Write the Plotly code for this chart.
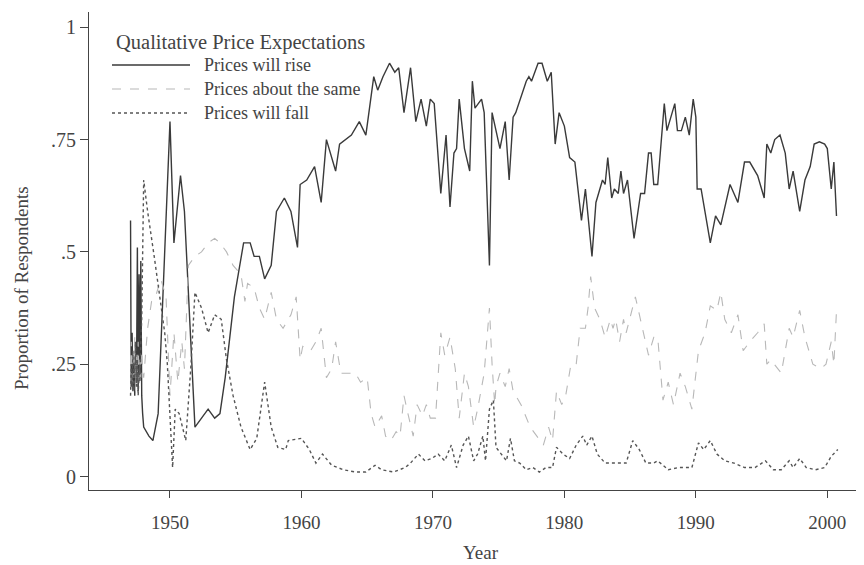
import plotly.graph_objects as go

# ---------------- data ----------------
rise_years = [1947.0, 1947.05, 1947.12, 1947.18, 1947.25, 1947.32, 1947.38, 1947.45, 1947.52,
              1947.58, 1947.65, 1947.72, 1947.78, 1947.85, 1947.92, 1948.0, 1948.4, 1948.7,
              1949.1, 1950.0, 1950.3, 1950.8, 1951.1, 1951.9, 1952.4, 1952.9, 1953.4, 1953.8,
              1954.2, 1954.9, 1955.6, 1956.1, 1956.4, 1956.8, 1957.2, 1957.7, 1958.1, 1958.7,
              1959.2, 1959.7, 1959.9, 1960.4, 1961.0, 1961.5, 1961.9, 1962.6, 1962.9, 1963.8,
              1964.4, 1964.9, 1965.5, 1965.8, 1966.2, 1966.7, 1967.1, 1967.4, 1967.8, 1968.3,
              1968.7, 1969.1, 1969.5, 1969.8, 1970.1, 1970.6, 1971.0, 1971.3, 1971.6, 1971.8,
              1972.0, 1972.4, 1972.8, 1973.0, 1973.2, 1973.7, 1973.9, 1974.3, 1974.5, 1975.1,
              1975.5, 1975.8, 1976.1, 1976.3, 1977.1, 1977.3, 1977.5, 1978.0, 1978.3, 1978.7,
              1979.0, 1979.3, 1979.6, 1980.0, 1980.4, 1980.8, 1981.3, 1981.6, 1982.1, 1982.4,
              1982.9, 1983.1, 1983.3, 1983.6, 1983.8, 1984.1, 1984.3, 1984.5, 1984.8, 1985.3,
              1985.8, 1986.1, 1986.4, 1986.6, 1986.8, 1987.1, 1987.6, 1987.8, 1988.1, 1988.4,
              1988.6, 1988.9, 1989.2, 1989.5, 1989.8, 1990.0, 1990.1, 1990.4, 1991.1, 1991.5,
              1991.9, 1992.6, 1993.2, 1993.7, 1994.1, 1994.7, 1995.2, 1995.4, 1995.7, 1996.0,
              1996.4, 1996.8, 1997.1, 1997.4, 1997.9, 1998.3, 1998.7, 1999.0, 1999.4, 1999.8,
              2000.0, 2000.3, 2000.5, 2000.7]
rise_vals = [0.57, 0.20, 0.32, 0.19, 0.27, 0.18, 0.30, 0.21, 0.51,
             0.19, 0.45, 0.22, 0.48, 0.18, 0.14, 0.11, 0.09, 0.08,
             0.14, 0.79, 0.52, 0.67, 0.59, 0.11, 0.13, 0.15, 0.13, 0.14,
             0.22, 0.40, 0.52, 0.52, 0.49, 0.49, 0.44, 0.47, 0.59, 0.62,
             0.59, 0.51, 0.65, 0.66, 0.69, 0.61, 0.75, 0.68, 0.74, 0.76,
             0.79, 0.76, 0.89, 0.86, 0.89, 0.92, 0.90, 0.91, 0.81, 0.91,
             0.79, 0.84, 0.78, 0.84, 0.83, 0.63, 0.76, 0.60, 0.72, 0.73,
             0.84, 0.73, 0.68, 0.88, 0.82, 0.84, 0.81, 0.47, 0.81, 0.73,
             0.79, 0.66, 0.80, 0.81, 0.88, 0.89, 0.88, 0.92, 0.92, 0.88,
             0.90, 0.74, 0.81, 0.78, 0.71, 0.70, 0.57, 0.64, 0.49, 0.61,
             0.66, 0.65, 0.71, 0.62, 0.64, 0.63, 0.68, 0.63, 0.66, 0.53,
             0.63, 0.63, 0.72, 0.72, 0.65, 0.65, 0.83, 0.77, 0.80, 0.83,
             0.77, 0.77, 0.80, 0.76, 0.84, 0.80, 0.64, 0.64, 0.52, 0.58,
             0.56, 0.65, 0.61, 0.70, 0.70, 0.67, 0.62, 0.74, 0.72, 0.75,
             0.76, 0.72, 0.64, 0.68, 0.59, 0.66, 0.69, 0.74, 0.745, 0.74,
             0.73, 0.64, 0.70, 0.58]

same_years = [1947.0, 1947.06, 1947.12, 1947.18, 1947.25, 1947.32, 1947.38, 1947.45, 1947.52,
              1947.58, 1947.65, 1947.72, 1947.78, 1947.85, 1947.92, 1948.0, 1948.3, 1948.6,
              1948.9, 1949.3, 1949.7, 1950.0, 1950.3, 1950.6, 1950.9, 1951.1, 1951.4, 1951.9,
              1952.4, 1952.9, 1953.4, 1953.8, 1954.3, 1954.8, 1955.4, 1955.7, 1955.9, 1956.4,
              1956.8, 1957.2, 1957.7, 1958.1, 1958.6, 1959.2, 1959.6, 1959.9, 1960.1, 1960.7,
              1961.1, 1961.5, 1961.9, 1962.3, 1962.6, 1963.0, 1963.4, 1964.1, 1964.5, 1965.0,
              1965.3, 1965.6, 1966.1, 1966.4, 1966.8, 1967.2, 1967.5, 1967.8, 1968.1, 1968.5,
              1968.8, 1969.2, 1969.5, 1969.8, 1970.2, 1970.6, 1970.9, 1971.3, 1971.7, 1972.0,
              1972.4, 1972.7, 1973.1, 1973.4, 1973.9, 1974.3, 1974.5, 1974.7, 1974.8, 1975.1,
              1975.5, 1975.8, 1976.1, 1976.7, 1977.4, 1978.0, 1978.4, 1978.8, 1979.1, 1979.4,
              1979.8, 1980.1, 1980.5, 1980.9, 1981.2, 1981.6, 1981.8, 1982.0, 1982.3, 1982.7,
              1983.1, 1983.5, 1983.7, 1983.9, 1984.2, 1984.5, 1984.7, 1985.4, 1985.7, 1986.4,
              1986.8, 1987.1, 1987.5, 1987.9, 1988.3, 1988.8, 1989.2, 1989.7, 1990.2, 1990.7,
              1991.1, 1991.6, 1991.9, 1992.2, 1992.7, 1993.2, 1993.6, 1994.1, 1994.7, 1995.2,
              1995.4, 1995.7, 1996.5, 1997.1, 1997.4, 1997.9, 1998.3, 1998.9, 1999.5, 1999.9,
              2000.3, 2000.5, 2000.7]
same_vals = [0.25, 0.30, 0.20, 0.28, 0.22, 0.31, 0.19, 0.27, 0.23,
             0.30, 0.20, 0.26, 0.22, 0.28, 0.24, 0.22, 0.33, 0.39,
             0.40, 0.44, 0.40, 0.18, 0.32, 0.21, 0.30, 0.24, 0.47, 0.49,
             0.50, 0.52, 0.53, 0.52, 0.50, 0.47, 0.45, 0.39, 0.43, 0.42,
             0.375, 0.35, 0.41, 0.35, 0.33, 0.36, 0.40, 0.26, 0.29, 0.28,
             0.30, 0.33, 0.22, 0.24, 0.30, 0.23, 0.23, 0.23, 0.21, 0.22,
             0.14, 0.11, 0.135, 0.09, 0.08, 0.10, 0.09, 0.18, 0.14, 0.09,
             0.16, 0.135, 0.16, 0.13, 0.13, 0.32, 0.27, 0.31, 0.24, 0.13,
             0.23, 0.20, 0.11, 0.15, 0.23, 0.375, 0.25, 0.16, 0.20, 0.23,
             0.20, 0.24, 0.19, 0.16, 0.11, 0.085, 0.07, 0.11, 0.08, 0.19,
             0.16, 0.18, 0.25, 0.25, 0.33, 0.33, 0.375, 0.445, 0.375, 0.35,
             0.31, 0.35, 0.33, 0.35, 0.30, 0.35, 0.32, 0.40, 0.36, 0.27,
             0.31, 0.31, 0.17, 0.21, 0.16, 0.23, 0.20, 0.15, 0.28, 0.32,
             0.38, 0.37, 0.41, 0.35, 0.32, 0.36, 0.28, 0.30, 0.32, 0.34,
             0.25, 0.26, 0.23, 0.33, 0.31, 0.37, 0.31, 0.25, 0.24, 0.25,
             0.30, 0.25, 0.37]

fall_years = [1947.0, 1947.06, 1947.12, 1947.18, 1947.25, 1947.32, 1947.38, 1947.45, 1947.52,
              1947.58, 1947.65, 1947.72, 1947.78, 1947.85, 1948.0, 1948.3, 1948.8, 1949.2,
              1949.6, 1949.8, 1950.2, 1950.4, 1950.7, 1951.2, 1951.6, 1951.9, 1952.4, 1952.9,
              1953.4, 1953.9, 1954.3, 1954.8, 1955.4, 1956.1, 1956.6, 1957.2, 1957.7, 1958.2,
              1958.8, 1959.0, 1960.0, 1960.6, 1961.1, 1961.6, 1962.3, 1963.2, 1964.1, 1964.9,
              1965.6, 1966.1, 1967.0, 1967.9, 1968.3, 1968.9, 1969.4, 1969.9, 1970.4, 1970.9,
              1971.4, 1971.8, 1972.3, 1972.7, 1973.1, 1973.4, 1973.8, 1974.0, 1974.3, 1974.6,
              1974.8, 1975.2, 1975.6, 1975.9, 1976.2, 1976.6, 1977.1, 1977.6, 1978.1, 1978.6,
              1979.1, 1979.4, 1979.9, 1980.4, 1980.9, 1981.4, 1981.7, 1982.1, 1982.5, 1983.1,
              1983.6, 1984.1, 1984.7, 1985.2, 1985.7, 1986.2, 1986.8, 1987.1, 1987.9, 1988.7,
              1989.7, 1990.2, 1990.6, 1991.1, 1991.6, 1992.2, 1992.9, 1993.7, 1994.5, 1995.3,
              1995.9, 1996.5, 1997.1, 1997.4, 1997.9, 1998.4, 1999.1, 1999.8, 2000.3, 2000.8]
fall_vals = [0.18, 0.25, 0.20, 0.28, 0.19, 0.23, 0.30, 0.20, 0.26,
             0.18, 0.24, 0.21, 0.30, 0.35, 0.66, 0.59, 0.49, 0.40,
             0.32, 0.25, 0.02, 0.15, 0.14, 0.08, 0.25, 0.41, 0.375, 0.32,
             0.36, 0.35, 0.26, 0.18, 0.11, 0.06, 0.085, 0.21, 0.11, 0.065,
             0.06, 0.08, 0.085, 0.06, 0.03, 0.05, 0.025, 0.015, 0.01, 0.01,
             0.025, 0.015, 0.01, 0.02, 0.03, 0.05, 0.035, 0.04, 0.05, 0.035,
             0.07, 0.02, 0.07, 0.09, 0.035, 0.05, 0.09, 0.035, 0.15, 0.17,
             0.065, 0.05, 0.035, 0.085, 0.035, 0.03, 0.015, 0.02, 0.01, 0.02,
             0.02, 0.065, 0.05, 0.04, 0.07, 0.09, 0.07, 0.09, 0.05, 0.03,
             0.03, 0.03, 0.03, 0.08, 0.06, 0.03, 0.03, 0.035, 0.015, 0.02,
             0.02, 0.075, 0.06, 0.08, 0.05, 0.035, 0.03, 0.02, 0.02, 0.035,
             0.015, 0.015, 0.035, 0.02, 0.04, 0.02, 0.015, 0.02, 0.045, 0.06]

series_names = ["Prices will rise", "Prices about the same", "Prices will fall"]
legend_title = "Qualitative Price Expectations"
x_title = "Year"
y_title = "Proportion of Respondents"
x_ticks = [1950, 1960, 1970, 1980, 1990, 2000]
y_ticks = [0, 0.25, 0.5, 0.75, 1]
y_tick_labels = ["0", ".25", ".5", ".75", "1"]

# ---------------- figure ----------------
FONT = "Liberation Serif, Times New Roman, serif"
TXT = "#444444"
W, H = 864, 565
ML, MR, MT, MB = 81, 0, 4, 83
PW, PH = W - ML - MR, H - MT - MB

styles = [
    dict(color="#3a3a3a", width=1.4, dash="solid"),
    dict(color="#b8b8b8", width=1.1, dash="dash"),
    dict(color="#555555", width=1.4, dash="dot"),
]

fig = go.Figure()
for name, xs, ys, st in zip(series_names, [rise_years, same_years, fall_years],
                            [rise_vals, same_vals, fall_vals], styles):
    fig.add_trace(go.Scatter(x=xs, y=ys, mode="lines", name=name, line=st,
                             showlegend=False))

def px(xp):
    return (xp - ML) / PW

def py(yp):
    return (MT + PH - yp) / PH

# legend drawn as shapes + text
shapes, annotations = [], []
annotations.append(dict(text=legend_title, xref="paper", yref="paper", x=px(106), y=py(34),
                        xanchor="left", yanchor="middle", showarrow=False,
                        font=dict(family=FONT, size=20.5, color=TXT)))
for i, (name, st) in enumerate(zip(series_names, styles)):
    yy = py(57 + i * 24)
    shapes.append(dict(type="line", xref="paper", yref="paper", x0=px(104), x1=px(182),
                       y0=yy, y1=yy, line=st))
    annotations.append(dict(text=name, xref="paper", yref="paper", x=px(194), y=yy,
                            xanchor="left", yanchor="middle", showarrow=False,
                            font=dict(family=FONT, size=18, color=TXT)))
# axis titles
annotations.append(dict(text=x_title, xref="paper", yref="paper", x=0.5, y=py(544),
                        xanchor="center", yanchor="middle", showarrow=False,
                        font=dict(family=FONT, size=19, color=TXT)))
annotations.append(dict(text=y_title, xref="paper", yref="paper", x=px(13), y=py(280),
                        xanchor="center", yanchor="middle", showarrow=False, textangle=-90,
                        font=dict(family=FONT, size=19, color=TXT)))

fig.update_layout(
    width=W, height=H,
    margin=dict(l=ML, r=MR, t=MT, b=MB, pad=0),
    plot_bgcolor="white", paper_bgcolor="white",
    font=dict(family=FONT, size=20, color=TXT),
    shapes=shapes, annotations=annotations,
    showlegend=False,
)
fig.update_xaxes(range=[1943.84, 2003.4], tickvals=x_ticks, ticks="outside", ticklen=7,
                 tickcolor=TXT, showline=True, linecolor=TXT, linewidth=1.2,
                 showgrid=False, zeroline=False, ticklabelstandoff=8,
                 tickfont=dict(family=FONT, size=19, color=TXT))
fig.update_yaxes(range=[-0.03, 1.034], tickvals=y_ticks, ticktext=y_tick_labels,
                 ticks="outside", ticklen=8, tickcolor=TXT, showline=True,
                 linecolor=TXT, linewidth=1.2, showgrid=False, zeroline=False,
                 tickfont=dict(family=FONT, size=20, color=TXT))

fig.write_html("out.html")
